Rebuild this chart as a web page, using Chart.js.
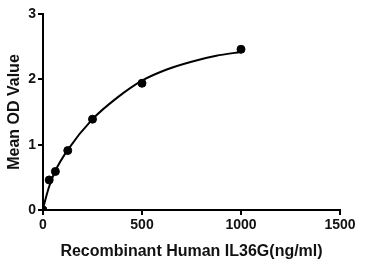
<!DOCTYPE html>
<html><head><meta charset="utf-8">
<script src="https://cdn.jsdelivr.net/npm/chart.js@4/dist/chart.umd.min.js"></script>
<style>html,body{margin:0;padding:0;background:#fff}#c{display:block}</style>
</head><body>
<canvas id="c" width="371" height="261"></canvas>
<script>
const concentrations = [0, 31.25, 62.5, 125, 250, 500, 1000];
const odValues = [0, 0.46, 0.59, 0.91, 1.39, 1.94, 2.46];
const curveX = [0, 15.6, 31.25, 62.5, 125, 250, 375, 500, 625, 750, 875, 1000];
const curveY = [0.02, 0.2, 0.36, 0.6, 0.92, 1.39, 1.72, 1.98, 2.15, 2.27, 2.36, 2.42];
const xTicks = [0, 500, 1000, 1500];
const yTicks = [0, 1, 2, 3];

const font = {family: "'Liberation Sans', Arial, sans-serif", weight: 'bold', size: 14};
new Chart(document.getElementById('c'), {
  type: 'scatter',
  data: {
    datasets: [
      {type: 'line', data: curveX.map((x, i) => ({x, y: curveY[i]})), borderColor: '#000', borderWidth: 2,
       pointRadius: 0, cubicInterpolationMode: 'monotone', fill: false},
      {data: concentrations.map((x, i) => ({x, y: odValues[i]})), backgroundColor: '#000', borderColor: '#000',
       pointRadius: 4, pointHoverRadius: 4}
    ]
  },
  options: {
    responsive: false, animation: false,
    layout: {padding: {left: 0, right: 31, top: 14, bottom: 0}},
    plugins: {legend: {display: false}, tooltip: {enabled: false}},
    scales: {
      x: {
        type: 'linear', min: 0, max: 1500,
        afterBuildTicks: s => { s.ticks = xTicks.map(v => ({value: v})); },
        afterFit: s => { s.height = 51; },
        grid: {display: true, drawOnChartArea: false, drawTicks: true, tickLength: 5, color: '#000', lineWidth: 2},
        border: {display: true, color: '#000', width: 2},
        ticks: {color: '#111', font, padding: 2, maxRotation: 0, callback: v => String(v)},
        title: {display: true, text: 'Recombinant Human IL36G(ng/ml)', color: '#111',
                font: {family: font.family, weight: 'bold', size: 16}, padding: {top: 1, bottom: 0}}
      },
      y: {
        type: 'linear', min: 0, max: 3,
        afterBuildTicks: s => { s.ticks = yTicks.map(v => ({value: v})); },
        afterFit: s => { s.width = 43; },
        grid: {display: true, drawOnChartArea: false, drawTicks: true, tickLength: 5, color: '#000', lineWidth: 2},
        border: {display: true, color: '#000', width: 2},
        ticks: {color: '#111', font, padding: 2, callback: v => String(v)},
        title: {display: true, text: 'Mean OD Value', color: '#111',
                font: {family: font.family, weight: 'bold', size: 16}, padding: {top: 5, bottom: 0}}
      }
    }
  }
});
</script>
</body></html>
